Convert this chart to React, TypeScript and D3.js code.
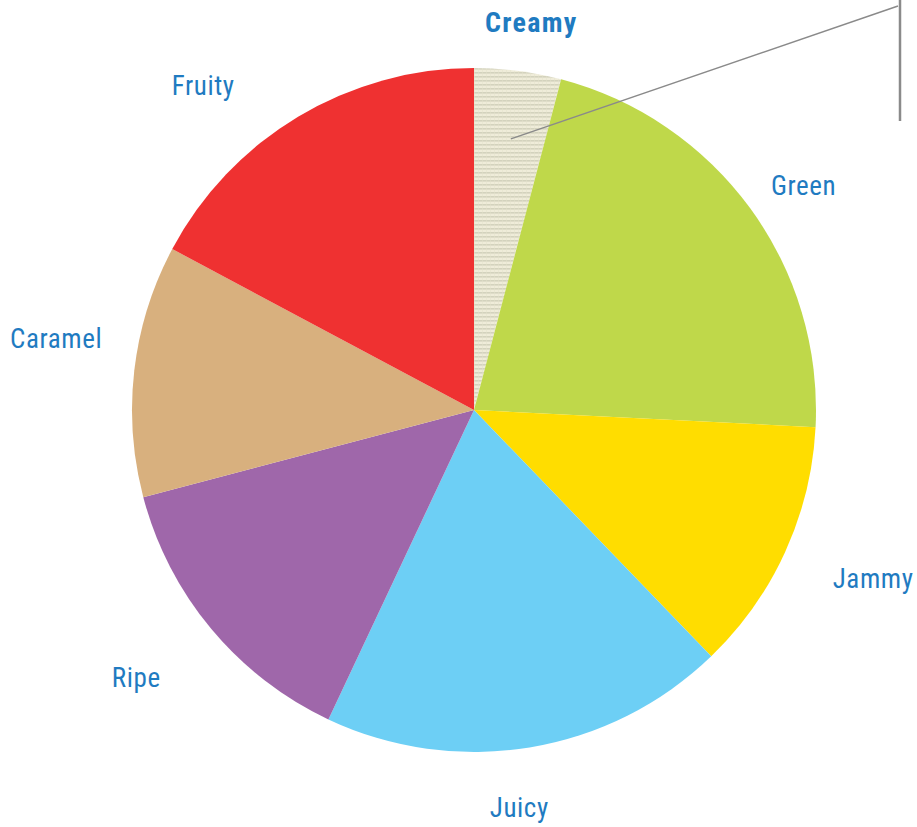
import React from "react";
import * as d3 from "d3";

const categories = ["Creamy", "Green", "Jammy", "Juicy", "Ripe", "Caramel", "Fruity"];
const values = [4.1, 21.7, 12, 19.2, 13.9, 11.9, 17.2];
const colors = ["url(#creamyPattern)", "#bfd84a", "#ffdd00", "#6dcff5", "#9f67aa", "#d8b07e", "#ef3131"];
// label placement (polar, degrees clockwise from 12 o'clock, distance from centre)
const labelAngles = [8.4, 55.7, 112.8, 173.5, 231.6, 279.8, 320.2];
const labelDist = [392, 399, 433, 400, 431, 424, 423];

const W = 917;
const H = 827;
const cx = 474;
const cy = 410;
const R = 342;

export default function App() {
  const pie = d3.pie<number>().sort(null).value((d) => d);
  const arcs = pie(values);
  const arc = d3.arc<d3.PieArcDatum<number>>().innerRadius(0).outerRadius(R);
  const leaderStartAngle = ((arcs[0].startAngle + arcs[0].endAngle) / 2) * 1.05;
  const lr = R * 0.8;
  const lx = lr * Math.sin(leaderStartAngle);
  const ly = -lr * Math.cos(leaderStartAngle);
  return (
    <svg
      width={W}
      height={H}
      style={{ position: "absolute", left: 0, top: 0 }}
      fontFamily="Roboto, 'Liberation Sans', sans-serif"
    >
      <defs>
        <pattern id="creamyPattern" width="4" height="4" patternUnits="userSpaceOnUse">
          <rect width="4" height="4" fill="#efecd9" />
          <rect width="4" height="1.6" y="2" fill="#d3d2bd" />
          <rect width="1" height="4" x="0" fill="#e3e1cc" opacity="0.5" />
        </pattern>
      </defs>
      <g transform={`translate(${cx},${cy})`}>
        {arcs.map((a, i) => (
          <path key={categories[i]} d={arc(a) || ""} fill={colors[i]} />
        ))}
        <polyline
          points={`${lx},${ly} ${898 - cx},${6 - cy}`}
          fill="none"
          stroke="#8a8a8a"
          strokeWidth={1.5}
        />
        <line x1={900 - cx} y1={0 - cy} x2={900 - cx} y2={121 - cy} stroke="#8a8a8a" strokeWidth={2.5} />
        {categories.map((c, i) => {
          const ang = (labelAngles[i] * Math.PI) / 180;
          const x = labelDist[i] * Math.sin(ang);
          const y = -labelDist[i] * Math.cos(ang);
          return (
            <text
              key={c}
              x={x}
              y={y}
              dy="0.36em"
              textAnchor="middle"
              fontSize={i === 0 ? 28 : 27}
              fill="#1f7bc1"
              fontWeight={i === 0 ? 700 : 400}
              letterSpacing={i === 0 ? 1.3 : 0.6}
              style={{ fontStretch: "condensed" }}
            >
              {c}
            </text>
          );
        })}
      </g>
    </svg>
  );
}
